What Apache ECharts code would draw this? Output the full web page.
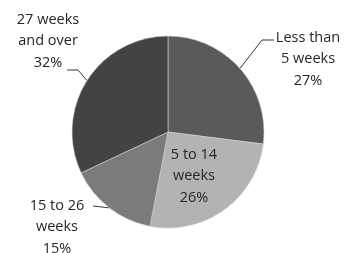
<!DOCTYPE html>
<html>
<head>
<meta charset="utf-8">
<script src="https://cdn.jsdelivr.net/npm/echarts@6/dist/echarts.min.js"></script>
<style>
  html, body { margin: 0; padding: 0; background: #fff; }
  #chart { width: 347px; height: 253px; }
</style>
</head>
<body>
<div id="chart"></div>
<script>
const categories = ["Less than\n5 weeks", "5 to 14\nweeks", "15 to 26\nweeks", "27 weeks\nand over"];
const shares = [27, 26, 15, 32];
const sliceColors = ["#5a5a5a", "#b3b3b3", "#7b7b7b", "#434343"];

// where each label sits (text centre) and how its leader line bends
const labelSpots = [
  { x: 308, y: 59, line: [[262, 40], [274, 40]] },
  { x: 194, y: 176, line: null },
  { x: 57, y: 227, line: [[93, 206]] },
  { x: 48, y: 41, line: [[78, 70], [67, 70]] }
];

const myChart = echarts.init(document.getElementById("chart"));
myChart.setOption({
  animation: false,
  series: [
    {
      type: "pie",
      center: [168, 132],
      radius: 96,
      startAngle: 90,
      clockwise: true,
      itemStyle: {
        borderColor: "#cfcfcf",
        borderWidth: 0.6
      },
      label: {
        show: true,
        position: "outside",
        formatter: "{b}\n{c}%",
        fontFamily: "Open Sans",
        fontSize: 14.5,
        lineHeight: 21.5,
        color: "#262626",
        align: "center",
        overflow: "none"
      },
      labelLine: {
        show: true,
        length: 10,
        length2: 10,
        smooth: false,
        lineStyle: { color: "#3a3a3a", width: 1 }
      },
      labelLayout: function (params) {
        const spot = labelSpots[params.dataIndex];
        const out = {
          x: spot.x,
          y: spot.y,
          align: "center",
          verticalAlign: "middle",
          width: 120
        };
        if (spot.line && params.labelLinePoints) {
          out.labelLinePoints = [params.labelLinePoints[0]].concat(spot.line);
        }
        return out;
      },
      data: categories.map(function (name, i) {
        const item = {
          name: name,
          value: shares[i],
          itemStyle: { color: sliceColors[i] }
        };
        if (i === 1) {
          item.label = { position: "inside" };
          item.labelLine = { show: false };
        }
        return item;
      })
    }
  ]
});
</script>
</body>
</html>
